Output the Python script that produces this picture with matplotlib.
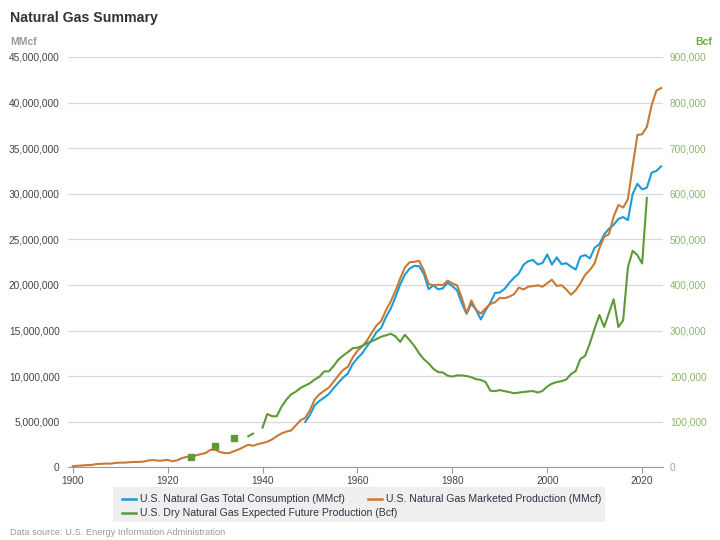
import numpy as np
import matplotlib.pyplot as plt
from matplotlib.lines import Line2D
from matplotlib.patches import Rectangle
from matplotlib.ticker import FuncFormatter

plt.rcParams['font.family'] = ['Liberation Sans', 'DejaVu Sans']

# Marketed production (MMcf), 1900-2024
prod_years = list(range(1900, 2025))
marketed = [
    128000, 169000, 200000, 239000, 264000, 355000, 385000, 406000, 402000, 481000,
    509000, 513000, 562000, 582000, 592000, 629000, 753000, 795000, 721000, 746000,
    812000, 662000, 763000, 1007000, 1142000, 1188000, 1313000, 1445000, 1568000, 1917000,
    1943000, 1686000, 1556000, 1555000, 1771000, 1969000, 2225000, 2473000, 2358000, 2538000,
    2660000, 2812000, 3053000, 3415000, 3711000, 3918000, 4031000, 4582000, 5148000, 5420000,
    6282000, 7457000, 8013000, 8397000, 8743000, 9405000, 10082000, 10680000, 11030000, 12046000,
    12771000, 13254000, 13877000, 14747000, 15548000, 16040000, 17207000, 18171000, 19322000, 20698000,
    21921000, 22493000, 22532000, 22648000, 21601000, 20109000, 19952000, 20025000, 19974000, 20471000,
    20180000, 19956000, 18582000, 16884000, 18304000, 17270000, 16859000, 17433000, 17918000, 18095000,
    18594000, 18532000, 18712000, 18982000, 19710000, 19506000, 19812000, 19866000, 19961000, 19805000,
    20198000, 20570000, 19885000, 19974000, 19517000, 18927000, 19410000, 20196000, 21112000, 21648000,
    22382000, 24036000, 25283000, 25562000, 27498000, 28772000, 28479000, 29400000, 33009000, 36447000,
    36521000, 37338000, 39700000, 41300000, 41600000,
]

# Total consumption (MMcf), 1949-2024
cons_years = list(range(1949, 2025))
consumption = [
    4971000, 5767000, 6812000, 7294000, 7641000, 8048000, 8694000, 9288000, 9847000, 10303000,
    11322000, 11967000, 12492000, 13267000, 13970000, 14814000, 15280000, 16452000, 17388000, 18632000,
    20056000, 21139000, 21793000, 22101000, 22049000, 21223000, 19538000, 19946000, 19521000, 19627000,
    20241000, 19877000, 19404000, 18001000, 16835000, 17951000, 17281000, 16221000, 17211000, 18030000,
    19119000, 19174000, 19562000, 20228000, 20790000, 21247000, 22207000, 22609000, 22737000, 22246000,
    22405000, 23333000, 22239000, 23027000, 22277000, 22389000, 22011000, 21685000, 23104000, 23277000,
    22910000, 24087000, 24477000, 25538000, 26155000, 26593000, 27244000, 27444000, 27110000, 29956000,
    31099000, 30480000, 30660000, 32320000, 32500000, 33000000,
]

# Dry natural gas expected future production (Bcf), 1925-2021
res_years = list(range(1925, 2022))
reserves = [
    23000, None, None, None, None, 46000, None, None, None, 64000,
    None, None, 68000, 74000, None, 87000, 117000, 112000, 112000, 133000,
    148000, 159703, 165927, 173869, 179401, 184585, 192759, 198632, 210299, 210561,
    222483, 236483, 245230, 252762, 261170, 262326, 266274, 272279, 276151, 281251,
    286469, 289333, 292908, 287350, 275109, 290746, 278806, 266085, 249950, 237132,
    228200, 216026, 208878, 208033, 200997, 199021, 201730, 201512, 200247, 197463,
    193369, 191586, 187211, 168024, 167116, 169346, 167062, 165015, 162415, 163837,
    165146, 166474, 167223, 164041, 167406, 177427, 183460, 186946, 189044, 192513,
    204385, 211085, 237726, 244656, 272509, 304625, 334067, 308036, 338264, 368704,
    307730, 322211, 438546, 474780, 465350, 447000, 591000,
]

labels = [
    'U.S. Natural Gas Total Consumption (MMcf)',
    'U.S. Natural Gas Marketed Production (MMcf)',
    'U.S. Dry Natural Gas Expected Future Production (Bcf)',
]
blue, orange, green = '#1d9bd7', '#c77a36', '#5b9a37'

fig = plt.figure(figsize=(7.2, 5.4), dpi=100)
ax = fig.add_axes([68 / 720, 1 - 467.3 / 540, (663 - 68) / 720, (467.3 - 57) / 540])
ax2 = ax.twinx()

ax.plot(cons_years, consumption, color=blue, lw=1.5, zorder=3)
ax.plot(prod_years, marketed, color=orange, lw=1.5, zorder=3)

res = np.array([np.nan if v is None else v for v in reserves], dtype=float)
ax2.plot(res_years, res, color=green, lw=1.5)
# isolated points get a square marker, like the original
lone = [i for i in range(len(res)) if not np.isnan(res[i])
        and (i == 0 or np.isnan(res[i - 1]))
        and (i == len(res) - 1 or np.isnan(res[i + 1]))]
ax2.plot([res_years[i] for i in lone], res[lone], 's', color=green, ms=5, lw=0)

ax.set_xlim(1899, 2024.4)
ax.set_ylim(0, 45e6)
ax2.set_ylim(0, 900000)
ax.set_xticks(range(1900, 2021, 20))
ax.set_yticks(np.arange(0, 45e6 + 1, 5e6))
ax2.set_yticks(np.arange(0, 900001, 100000))

fmt = FuncFormatter(lambda v, p: f'{v:,.0f}')
ax.yaxis.set_major_formatter(fmt)
ax2.yaxis.set_major_formatter(fmt)

ax.grid(axis='y', color='#d9d9d9', lw=0.9)
ax.set_axisbelow(True)
for a in (ax, ax2):
    for s in ('top', 'left', 'right'):
        a.spines[s].set_visible(False)
ax2.spines['bottom'].set_visible(False)
ax.spines['bottom'].set_color('#9a9a9a')

ax.tick_params(axis='x', length=4, color='#9a9a9a', labelsize=7.3, labelcolor='#444444', pad=2)
ax.tick_params(axis='y', length=0, labelsize=7.3, labelcolor='#444444', pad=6)
ax2.tick_params(axis='y', length=0, labelsize=7.3, labelcolor='#8ab86a', pad=5)

fig.text(10 / 720, 1 - 18 / 540, 'Natural Gas Summary', fontsize=10.2, fontweight='bold',
         color='#333333', va='center')
fig.text(10 / 720, 1 - 42 / 540, 'MMcf', fontsize=7.5, fontweight='bold', color='#9a9a9a', va='center')
fig.text(712 / 720, 1 - 42 / 540, 'Bcf', fontsize=7.5, fontweight='bold', color='#6aa843',
         va='center', ha='right')

# legend box
fig.patches.append(Rectangle((113 / 720, 1 - 522 / 540), (605 - 113) / 720, 35 / 540,
                             transform=fig.transFigure, facecolor='#efefef', edgecolor='none'))
entries = [(blue, labels[0], 122, 499), (orange, labels[1], 368, 499), (green, labels[2], 122, 513)]
for col, lab, x0, y0 in entries:
    fig.lines.append(Line2D([x0 / 720, (x0 + 14) / 720], [1 - y0 / 540] * 2, color=col, lw=1.8,
                            transform=fig.transFigure))
    fig.text((x0 + 18) / 720, 1 - y0 / 540, lab, fontsize=7.6, color='#333344', va='center')

fig.text(10 / 720, 1 - 532.5 / 540, 'Data source: U.S. Energy Information Administration',
         fontsize=6.7, color='#9a9a9a', va='center')

fig.savefig('out.png', dpi=100)
